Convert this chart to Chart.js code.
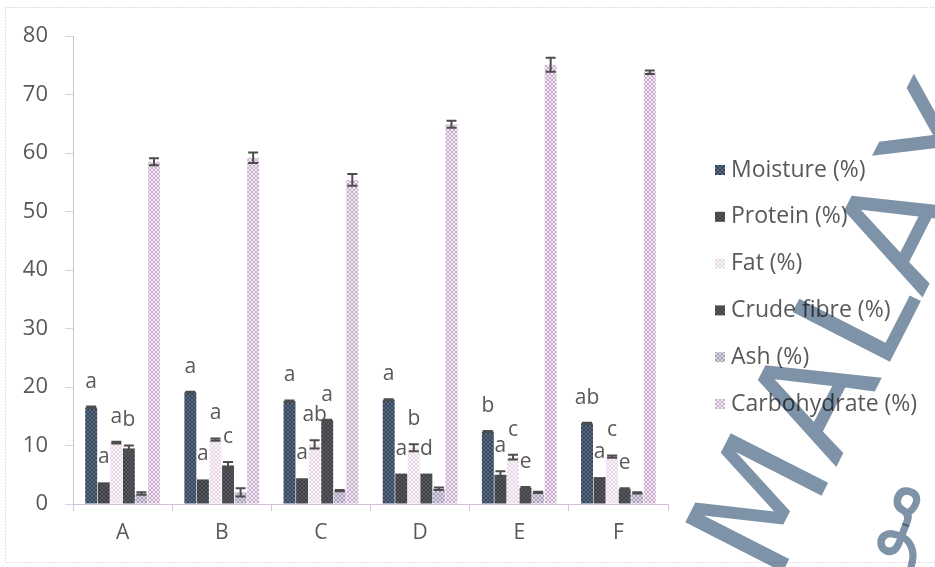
<!DOCTYPE html>
<html>
<head>
<meta charset="utf-8">
<script src="https://cdn.jsdelivr.net/npm/chart.js@4.4.0/dist/chart.umd.min.js"></script>
<style>
  html, body { margin: 0; padding: 0; background: #ffffff; }
  #wrap { width: 935px; height: 567px; position: relative; }
</style>
</head>
<body>
<div id="wrap"><canvas id="c" width="935" height="567"></canvas></div>
<script>
// Proximate composition of samples A–F (%)
const categories   = ['A', 'B', 'C', 'D', 'E', 'F'];
const moisture     = [16.5, 19.1, 17.6, 17.8, 12.4, 13.8];
const protein      = [3.7, 4.2, 4.4, 5.2, 5.0, 4.6];
const fat          = [10.5, 11.0, 10.2, 9.6, 8.0, 8.1];
const crudeFibre   = [9.5, 6.6, 14.3, 5.2, 2.8, 2.6];
const ash          = [1.8, 2.0, 2.3, 2.6, 2.0, 1.9];
const carbohydrate = [58.5, 59.2, 55.4, 64.9, 75.1, 73.8];

// Standard deviations (error bars)
const moistureSd     = [0.15, 0.1, 0.1, 0.1, 0.1, 0.1];
const proteinSd      = [0, 0, 0, 0, 0.6, 0];
const fatSd          = [0.15, 0.2, 0.7, 0.6, 0.4, 0.2];
const crudeFibreSd   = [0.5, 0.6, 0.1, 0, 0.1, 0.1];
const ashSd          = [0.2, 0.7, 0.1, 0.2, 0.1, 0.1];
const carbohydrateSd = [0.6, 0.9, 1.0, 0.6, 1.2, 0.3];

// Significance letters (Moisture, Protein, Fat, Crude fibre)
const moistureSig   = ['a', 'a', 'a', 'a', 'b', 'ab'];
const proteinSig    = ['a', 'a', 'a', 'a', 'a', 'a'];
const fatSig        = ['a', 'a', 'ab', 'b', 'c', 'c'];
const crudeFibreSig = ['b', 'c', 'a', 'd', 'e', 'e'];

const yTicks = [0, 10, 20, 30, 40, 50, 60, 70, 80];
const seriesNames = ['Moisture (%)', 'Protein (%)', 'Fat (%)', 'Crude fibre (%)', 'Ash (%)', 'Carbohydrate (%)'];

// small dithered fills, like a printed hatch
function hatch(base, ink) {
  const c = document.createElement('canvas');
  c.width = 4; c.height = 4;
  const g = c.getContext('2d');
  g.fillStyle = base; g.fillRect(0, 0, 4, 4);
  g.fillStyle = ink;
  for (let i = 0; i < 4; i++) { g.fillRect(i, i, 1, 1); g.fillRect(3 - i, i, 1, 1); }
  return g.createPattern(c, 'repeat');
}

const fills = [
  hatch('#33445b', '#5b6c82'),
  hatch('#3c3e44', '#56585e'),
  hatch('#fbf6fa', '#e7d6e5'),
  hatch('#3e4046', '#595b61'),
  hatch('#dcd6e5', '#a8a0bb'),
  hatch('#f2e8f2', '#c9aed0')
];

const values = [moisture, protein, fat, crudeFibre, ash, carbohydrate];
const sds    = [moistureSd, proteinSd, fatSd, crudeFibreSd, ashSd, carbohydrateSd];
const sigs   = [moistureSig, proteinSig, fatSig, crudeFibreSig, null, null];

const FONT = '"Open Sans", "Noto Sans", sans-serif';
const TEXT = '#595959';

// error bars and letters above the bars
const barExtras = {
  id: 'barExtras',
  afterDatasetsDraw(chart) {
    const ctx = chart.ctx;
    const y = chart.scales.y;
    ctx.save();
    chart.data.datasets.forEach((ds, di) => {
      const meta = chart.getDatasetMeta(di);
      meta.data.forEach((bar, i) => {
        const v = ds.data[i];
        const sd = sds[di][i];
        const cx = bar.x;
        if (sd > 0) {
          const yt = y.getPixelForValue(v + sd);
          const yb = y.getPixelForValue(v - sd);
          ctx.strokeStyle = '#4d4d4d';
          ctx.lineWidth = 2;
          ctx.beginPath();
          ctx.moveTo(cx, yt); ctx.lineTo(cx, yb);
          ctx.moveTo(cx - 5, yt); ctx.lineTo(cx + 5, yt);
          ctx.moveTo(cx - 5, yb); ctx.lineTo(cx + 5, yb);
          ctx.stroke();
        }
        const s = sigs[di];
        if (s) {
          ctx.fillStyle = TEXT;
          ctx.font = '21px ' + FONT;
          ctx.textAlign = 'center';
          ctx.textBaseline = 'middle';
          ctx.fillText(s[i], cx, y.getPixelForValue(v + sd) - 25);
        }
      });
    });
    ctx.restore();
  }
};

// legend column on the right
const sideLegend = {
  id: 'sideLegend',
  afterDraw(chart) {
    const ctx = chart.ctx;
    ctx.save();
    ctx.font = '23px ' + FONT;
    ctx.textBaseline = 'middle';
    ctx.textAlign = 'left';
    chart.data.datasets.forEach((ds, i) => {
      const yy = 170 + i * 46.8;
      ctx.fillStyle = ds.backgroundColor;
      ctx.fillRect(715, yy - 5, 10, 10);
      ctx.fillStyle = TEXT;
      ctx.fillText(ds.label, 731, yy);
    });
    ctx.restore();
  }
};

// dotted outer frame
const frame = {
  id: 'frame',
  beforeDraw(chart) {
    const ctx = chart.ctx;
    ctx.save();
    ctx.fillStyle = '#ffffff';
    ctx.fillRect(0, 0, chart.width, chart.height);
    ctx.strokeStyle = '#cbbccf';
    ctx.lineWidth = 1;
    ctx.setLineDash([1, 2]);
    ctx.strokeRect(5.5, 7.5, 940, 555);
    ctx.restore();
  }
};

// university watermark across the right side
const watermark = {
  id: 'watermark',
  afterDraw(chart) {
    const ctx = chart.ctx;
    ctx.save();
    ctx.globalCompositeOperation = 'multiply';
    ctx.fillStyle = '#7f93a8';
    ctx.translate(776, 585);
    ctx.rotate(-63 * Math.PI / 180);
    ctx.font = '150px "DejaVu Sans", sans-serif';
    ctx.textBaseline = 'alphabetic';
    const letters = ['M', 'A', 'L', 'A', 'Y'];
    let x = 0;
    letters.forEach(ch => {
      ctx.fillText(ch, x, 0);
      x += ctx.measureText(ch).width + 2;
    });
    ctx.restore();
    ctx.save();
    ctx.globalCompositeOperation = 'multiply';
    ctx.fillStyle = '#7f93a8';
    ctx.translate(895, 565);
    ctx.rotate(-70 * Math.PI / 180);
    ctx.font = '80px "DejaVu Sans", sans-serif';
    ctx.fillText('مو', 0, 0);
    ctx.restore();
  }
};

new Chart(document.getElementById('c'), {
  type: 'bar',
  data: {
    labels: categories,
    datasets: values.map((arr, i) => ({
      label: seriesNames[i],
      data: arr,
      backgroundColor: fills[i],
      borderWidth: 0,
      categoryPercentage: 0.76,
      barPercentage: 0.95
    }))
  },
  options: {
    responsive: false,
    animation: false,
    devicePixelRatio: 1,
    layout: { padding: { top: 36, right: 267, left: 0, bottom: 0 } },
    plugins: {
      legend: { display: false },
      tooltip: { enabled: false }
    },
    scales: {
      x: {
        afterFit(s) { s.height = 63; },
        grid: { display: true, drawOnChartArea: false, drawTicks: true, tickLength: 7, color: '#d8c6dc', offset: true },
        border: { display: true, color: '#d2bfd6', dash: [1, 2] },
        ticks: { color: TEXT, font: { family: FONT, size: 21 }, padding: 9 }
      },
      y: {
        min: 0,
        max: 80,
        afterFit(s) { s.width = 73; },
        afterBuildTicks(s) { s.ticks = yTicks.map(v => ({ value: v })); },
        grid: { display: true, drawOnChartArea: false, drawTicks: true, tickLength: 8, color: '#ddd0e0' },
        border: { display: true, color: '#d2bfd6', dash: [1, 2] },
        ticks: { color: TEXT, font: { family: FONT, size: 22 }, padding: 17 }
      }
    }
  },
  plugins: [frame, barExtras, sideLegend, watermark]
});
</script>
</body>
</html>
